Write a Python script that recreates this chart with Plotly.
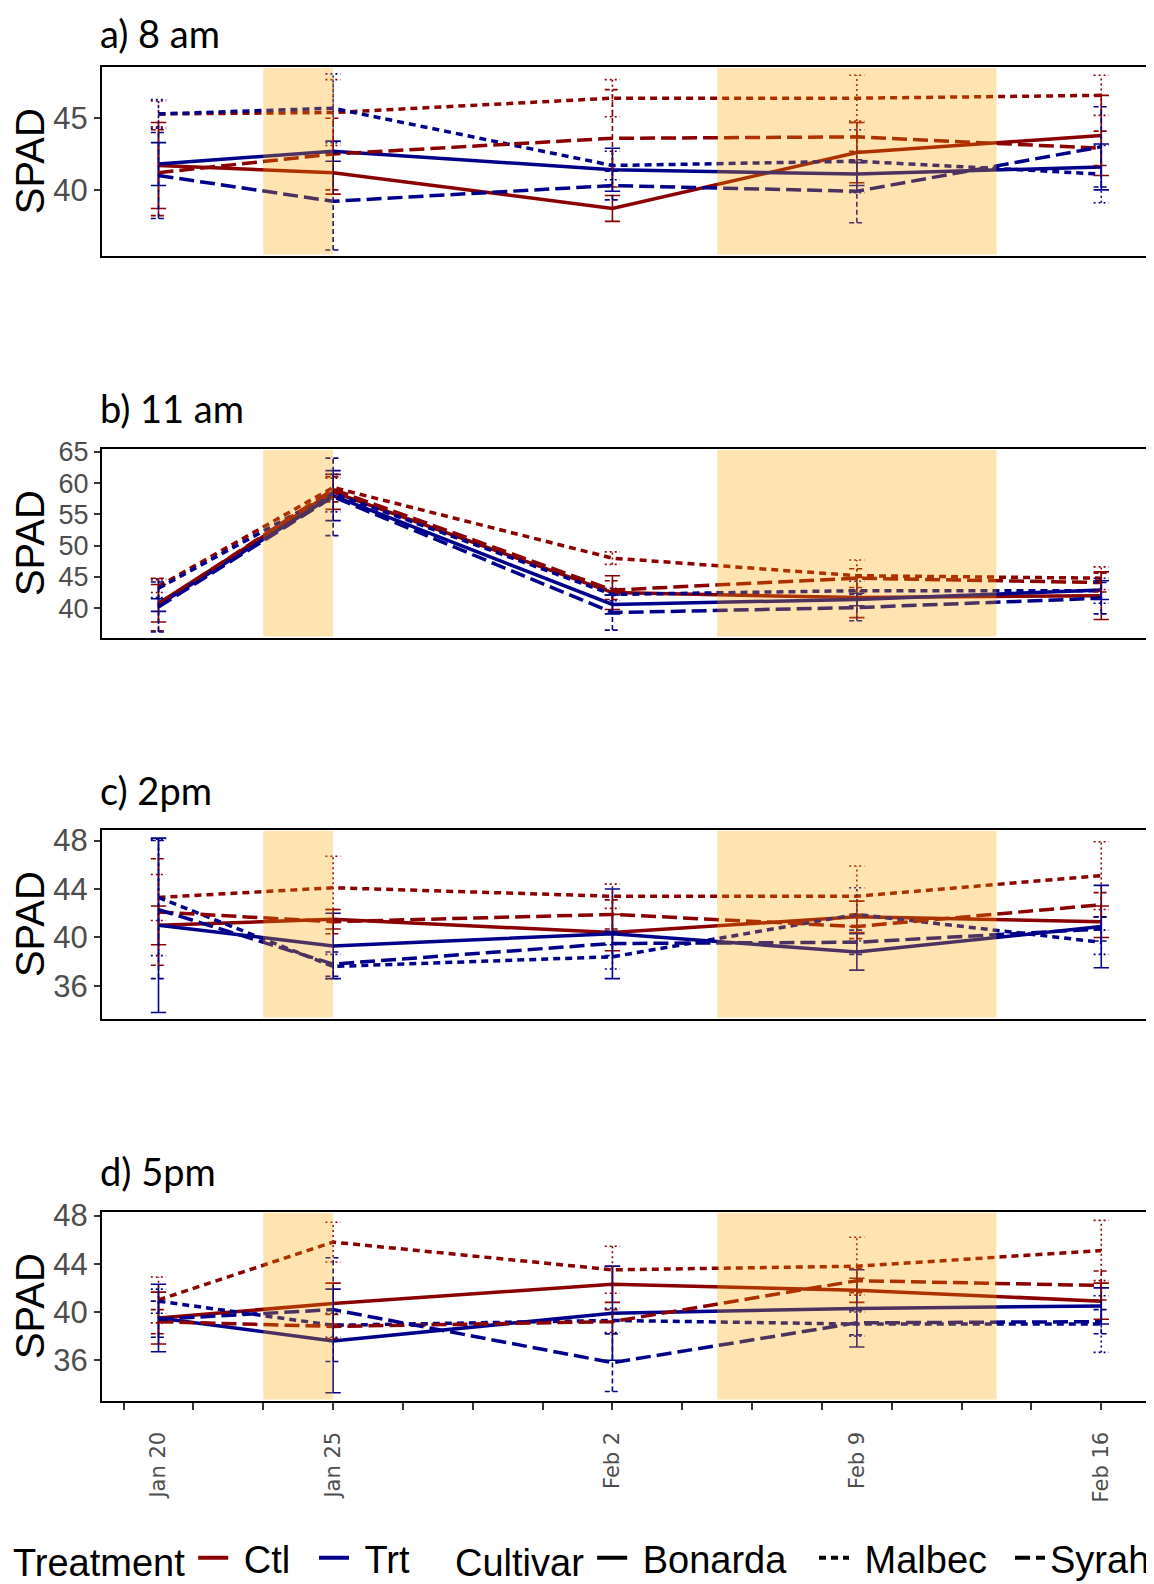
import plotly.graph_objects as go
import pandas as pd

# ---------------- data ----------------
dates = ["2020-01-20", "2020-01-25", "2020-02-02", "2020-02-09", "2020-02-16"]
date_labels = ["Jan 20", "Jan 25", "Feb 2", "Feb 9", "Feb 16"]
shade_start = ["2020-01-23", "2020-02-05"]
shade_end = ["2020-01-25", "2020-02-13"]
treatments = ["Ctl", "Trt"]
cultivars = ["Bonarda", "Malbec", "Syrah"]
panel_titles = ["a) 8 am", "b) 11 am", "c) 2pm", "d) 5pm"]
y_ticks_a = [40, 45]
y_ticks_b = [40, 45, 50, 55, 60, 65]
y_ticks_c = [36, 40, 44, 48]
y_ticks_d = [36, 40, 44, 48]

# a) 8am  (mean, +/- error)
am8_ctl_bonarda = [41.7, 41.2, 38.7, 42.6, 43.8]
am8_ctl_bonarda_err = [3.0, 1.5, 0.9, 2.1, 2.8]
am8_trt_bonarda = [41.8, 42.7, 41.4, 41.1, 41.6]
am8_trt_bonarda_err = [1.5, 0.7, 1.5, 0.8, 1.6]
am8_ctl_malbec = [45.3, 45.4, 46.4, 46.4, 46.6]
am8_ctl_malbec_err = [0.9, 2.3, 1.3, 1.6, 1.4]
am8_trt_malbec = [45.3, 45.7, 41.7, 42.0, 41.1]
am8_trt_malbec_err = [1.0, 2.4, 1.0, 2.2, 2.0]
am8_ctl_syrah = [41.2, 42.5, 43.6, 43.7, 42.9]
am8_ctl_syrah_err = [3.0, 2.5, 3.4, 1.0, 1.2]
am8_trt_syrah = [41.0, 39.2, 40.3, 39.9, 43.0]
am8_trt_syrah_err = [3.0, 3.4, 1.0, 2.2, 2.8]

# b) 11am
am11_ctl_bonarda = [40.8, 58.6, 42.5, 41.7, 42.0]
am11_ctl_bonarda_err = [3.0, 2.8, 2.7, 3.2, 3.8]
am11_trt_bonarda = [40.5, 58.0, 40.6, 41.4, 42.9]
am11_trt_bonarda_err = [1.0, 4.0, 1.5, 1.0, 1.5]
am11_ctl_malbec = [43.5, 59.3, 48.0, 45.2, 44.8]
am11_ctl_malbec_err = [1.0, 1.5, 1.0, 2.5, 1.8]
am11_trt_malbec = [43.2, 58.4, 42.2, 42.8, 42.8]
am11_trt_malbec_err = [1.5, 3.0, 1.0, 1.5, 2.0]
am11_ctl_syrah = [40.6, 59.0, 42.9, 44.8, 44.1]
am11_ctl_syrah_err = [4.2, 2.0, 1.5, 1.5, 1.5]
am11_trt_syrah = [40.2, 57.8, 39.3, 40.1, 41.6]
am11_trt_syrah_err = [4.0, 6.2, 2.8, 2.1, 2.5]

# c) 2pm
pm2_ctl_bonarda = [41.0, 41.5, 40.4, 41.7, 41.3]
pm2_ctl_bonarda_err = [1.6, 0.8, 1.5, 1.3, 1.3]
pm2_trt_bonarda = [41.0, 39.3, 40.3, 38.8, 40.9]
pm2_trt_bonarda_err = [7.2, 2.7, 3.7, 1.5, 3.4]
pm2_ctl_malbec = [43.3, 44.1, 43.4, 43.4, 45.1]
pm2_ctl_malbec_err = [1.9, 2.6, 1.0, 2.5, 2.8]
pm2_trt_malbec = [43.3, 37.6, 38.4, 41.9, 39.6]
pm2_trt_malbec_err = [4.8, 1.0, 1.0, 2.2, 1.0]
pm2_ctl_syrah = [42.1, 41.3, 41.9, 40.9, 42.7]
pm2_ctl_syrah_err = [4.4, 1.0, 1.2, 1.0, 1.0]
pm2_trt_syrah = [42.3, 37.8, 39.5, 39.6, 40.7]
pm2_trt_syrah_err = [5.7, 1.0, 1.0, 1.0, 1.0]

# d) 5pm
pm5_ctl_bonarda = [39.5, 40.7, 42.3, 41.8, 40.9]
pm5_ctl_bonarda_err = [2.15, 1.7, 1.5, 1.0, 1.5]
pm5_trt_bonarda = [39.5, 37.6, 39.9, 40.3, 40.5]
pm5_trt_bonarda_err = [2.8, 4.3, 3.9, 3.2, 1.5]
pm5_ctl_malbec = [41.0, 45.8, 43.5, 43.8, 45.1]
pm5_ctl_malbec_err = [1.9, 1.65, 1.95, 2.4, 2.5]
pm5_trt_malbec = [40.9, 38.9, 39.3, 39.0, 39.0]
pm5_trt_malbec_err = [1.0, 1.0, 1.0, 1.0, 2.35]
pm5_ctl_syrah = [39.2, 38.8, 39.2, 42.6, 42.2]
pm5_ctl_syrah_err = [1.0, 1.0, 1.0, 1.0, 1.2]
pm5_trt_syrah = [39.4, 40.2, 35.8, 39.1, 39.2]
pm5_trt_syrah_err = [1.5, 4.3, 2.4, 1.0, 1.0]

panels = [
    {("Ctl", "Bonarda"): (am8_ctl_bonarda, am8_ctl_bonarda_err),
     ("Trt", "Bonarda"): (am8_trt_bonarda, am8_trt_bonarda_err),
     ("Ctl", "Malbec"): (am8_ctl_malbec, am8_ctl_malbec_err),
     ("Trt", "Malbec"): (am8_trt_malbec, am8_trt_malbec_err),
     ("Ctl", "Syrah"): (am8_ctl_syrah, am8_ctl_syrah_err),
     ("Trt", "Syrah"): (am8_trt_syrah, am8_trt_syrah_err)},
    {("Ctl", "Bonarda"): (am11_ctl_bonarda, am11_ctl_bonarda_err),
     ("Trt", "Bonarda"): (am11_trt_bonarda, am11_trt_bonarda_err),
     ("Ctl", "Malbec"): (am11_ctl_malbec, am11_ctl_malbec_err),
     ("Trt", "Malbec"): (am11_trt_malbec, am11_trt_malbec_err),
     ("Ctl", "Syrah"): (am11_ctl_syrah, am11_ctl_syrah_err),
     ("Trt", "Syrah"): (am11_trt_syrah, am11_trt_syrah_err)},
    {("Ctl", "Bonarda"): (pm2_ctl_bonarda, pm2_ctl_bonarda_err),
     ("Trt", "Bonarda"): (pm2_trt_bonarda, pm2_trt_bonarda_err),
     ("Ctl", "Malbec"): (pm2_ctl_malbec, pm2_ctl_malbec_err),
     ("Trt", "Malbec"): (pm2_trt_malbec, pm2_trt_malbec_err),
     ("Ctl", "Syrah"): (pm2_ctl_syrah, pm2_ctl_syrah_err),
     ("Trt", "Syrah"): (pm2_trt_syrah, pm2_trt_syrah_err)},
    {("Ctl", "Bonarda"): (pm5_ctl_bonarda, pm5_ctl_bonarda_err),
     ("Trt", "Bonarda"): (pm5_trt_bonarda, pm5_trt_bonarda_err),
     ("Ctl", "Malbec"): (pm5_ctl_malbec, pm5_ctl_malbec_err),
     ("Trt", "Malbec"): (pm5_trt_malbec, pm5_trt_malbec_err),
     ("Ctl", "Syrah"): (pm5_ctl_syrah, pm5_ctl_syrah_err),
     ("Trt", "Syrah"): (pm5_trt_syrah, pm5_trt_syrah_err)},
]
y_ranges = [[35.4, 48.6], [35.3, 65.5], [33.3, 48.9], [32.65, 48.33]]
y_tickvals = [y_ticks_a, y_ticks_b, y_ticks_c, y_ticks_d]

# ---------------- style ----------------
W, H = 1154, 1584
OFF = 8                      # page body margin offset
ML = 102 - OFF
PW = W - ML
colors = {"Ctl": "#8B0000", "Trt": "#00008B"}
line_dash = {"Bonarda": "solid", "Malbec": "7px,5px", "Syrah": "15px,6px"}
err_dash = {"Bonarda": "solid", "Malbec": "2px,3px", "Syrah": "5px,3px"}
panel_px = [(66.7, 255.7), (448.7, 637.6), (829.6, 1018.6), (1211.6, 1400.6)]
title_px = [25.8, 407.5, 789.5, 1170.5]
x_range = ["2020-01-18 09:10", "2020-02-17 17:45"]
cap = pd.Timedelta(days=0.22)
FONT = "Liberation Sans"
LEG_FONT = 38
TITLE_FONT = 38
tick_sizes = [31, 27, 31, 31]
NB = "\u00a0"

fig = go.Figure()


def err_xy(ds, means, errs):
    xs, ys = [], []
    for d, m, e in zip(ds, means, errs):
        t = pd.Timestamp(d)
        lo, hi = m - e, m + e
        a, b = (t - cap).isoformat(), (t + cap).isoformat()
        c = t.isoformat()
        xs += [c, c, None, a, b, None, a, b, None]
        ys += [lo, hi, None, lo, lo, None, hi, hi, None]
    return xs, ys


for i, pdata in enumerate(panels):
    xa = "x" if i == 0 else f"x{i+1}"
    ya = "y" if i == 0 else f"y{i+1}"
    for cv in cultivars:
        for tr in treatments:
            means, errs = pdata[(tr, cv)]
            fig.add_trace(go.Scatter(
                x=dates, y=means, mode="lines", xaxis=xa, yaxis=ya,
                line=dict(color=colors[tr], width=3.5, dash=line_dash[cv]),
                showlegend=False, hoverinfo="skip"))
            ex, ey = err_xy(dates, means, errs)
            fig.add_trace(go.Scatter(
                x=ex, y=ey, mode="lines", xaxis=xa, yaxis=ya,
                line=dict(color=colors[tr], width=1.6, dash=err_dash[cv]),
                showlegend=False, hoverinfo="skip"))

# overlay axis for date labels on bottom panel
fig.add_trace(go.Scatter(x=dates, y=[None] * len(dates), xaxis="x5", yaxis="y4",
                         mode="lines", showlegend=False, hoverinfo="skip"))

# legend entries: one legend per entry so each can be placed like the original
legend_items = [
    ("legend", treatments[0], colors["Ctl"], "solid", "Treatment", NB),
    ("legend2", treatments[1], colors["Trt"], "solid", None, NB),
    ("legend3", cultivars[0], "black", line_dash["Bonarda"], "Cultivar", NB),
    ("legend4", cultivars[1], "black", line_dash["Malbec"], None, NB),
    ("legend5", cultivars[2], "black", line_dash["Syrah"], None, ""),
]
legend_x_px = [3, 306, 445, 806, 1002]
for (lg, name, col, dsh, _t, pad) in legend_items:
    fig.add_trace(go.Scatter(x=[None], y=[None], mode="lines", name=pad + name,
                             line=dict(color=col, width=4, dash=dsh), legend=lg))

layout = dict(
    width=W, height=H,
    margin=dict(l=ML, r=0, t=0, b=0, autoexpand=False),
    paper_bgcolor="white", plot_bgcolor="white",
    font=dict(family=FONT, color="black"),
)

shapes = []
annotations = []
for i in range(4):
    top, bot = panel_px[i]
    top -= OFF
    bot -= OFF
    dom = [1 - bot / H, 1 - top / H]
    xk = "xaxis" if i == 0 else f"xaxis{i+1}"
    yk = "yaxis" if i == 0 else f"yaxis{i+1}"
    ya = "y" if i == 0 else f"y{i+1}"
    xa = "x" if i == 0 else f"x{i+1}"
    xax = dict(domain=[0, 1], anchor=ya, type="date", range=x_range, automargin=False,
               showline=True, mirror=True, linecolor="black", linewidth=2,
               showgrid=False, zeroline=False, showticklabels=False, ticks="")
    if i == 3:
        xax.update(tickmode="linear", tick0="2020-01-19", dtick=2 * 86400000,
                   ticks="outside", ticklen=7, tickwidth=1.5, tickcolor="#333333")
    layout[xk] = xax
    layout[yk] = dict(domain=dom, anchor=xa, range=y_ranges[i], automargin=False,
                      tickmode="array", tickvals=y_tickvals[i],
                      showline=True, mirror=False, linecolor="black", linewidth=2,
                      showgrid=False, zeroline=False,
                      ticks="outside", ticklen=6, tickwidth=1.5, tickcolor="#333333",
                      tickfont=dict(size=tick_sizes[i], family=FONT, color="#4D4D4D"),
                      title=dict(text="SPAD", standoff=8,
                                 font=dict(size=40, family=FONT, color="black")))
    inset = 1.2 / (bot - top)
    for s0, s1 in zip(shade_start, shade_end):
        shapes.append(dict(type="rect", xref=xa, yref=f"{ya} domain",
                           x0=s0, x1=s1, y0=inset, y1=1 - inset,
                           fillcolor="rgba(255,165,0,0.3)", line=dict(width=0),
                           layer="above"))
    if i == 0:
        ty, yanc = 1.0, "top"
    else:
        ty, yanc = 1 - (title_px[i] - OFF) / H, "middle"
    annotations.append(dict(text=panel_titles[i], xref="paper", yref="paper",
                            x=0, y=ty, xanchor="left", yanchor=yanc,
                            xshift=-4, showarrow=False,
                            font=dict(size=TITLE_FONT, family="Lato", color="black")))

layout["xaxis5"] = dict(overlaying="x4", anchor="y4", type="date", range=x_range,
                        automargin=False,
                        showline=False, showgrid=False, zeroline=False,
                        tickmode="array", tickvals=dates, ticktext=date_labels,
                        ticks="", tickangle=-90, ticklabelstandoff=26,
                        tickfont=dict(size=21, family="DejaVu Sans", color="#4D4D4D"))

for (lg, name, col, dsh, ttl, pad), xp in zip(legend_items, legend_x_px):
    ld = dict(orientation="h", x=(xp - ML) / PW, xanchor="left",
              y=1 - (1558 - OFF) / H, yanchor="middle",
              font=dict(size=LEG_FONT, family=FONT, color="black"),
              bgcolor="rgba(0,0,0,0)", borderwidth=0)
    if ttl:
        ld["title"] = dict(text=ttl, font=dict(size=LEG_FONT, family=FONT))
    layout[lg] = ld

layout["shapes"] = shapes
layout["annotations"] = annotations

fig.update_layout(**layout)
fig.write_html("out.html")
